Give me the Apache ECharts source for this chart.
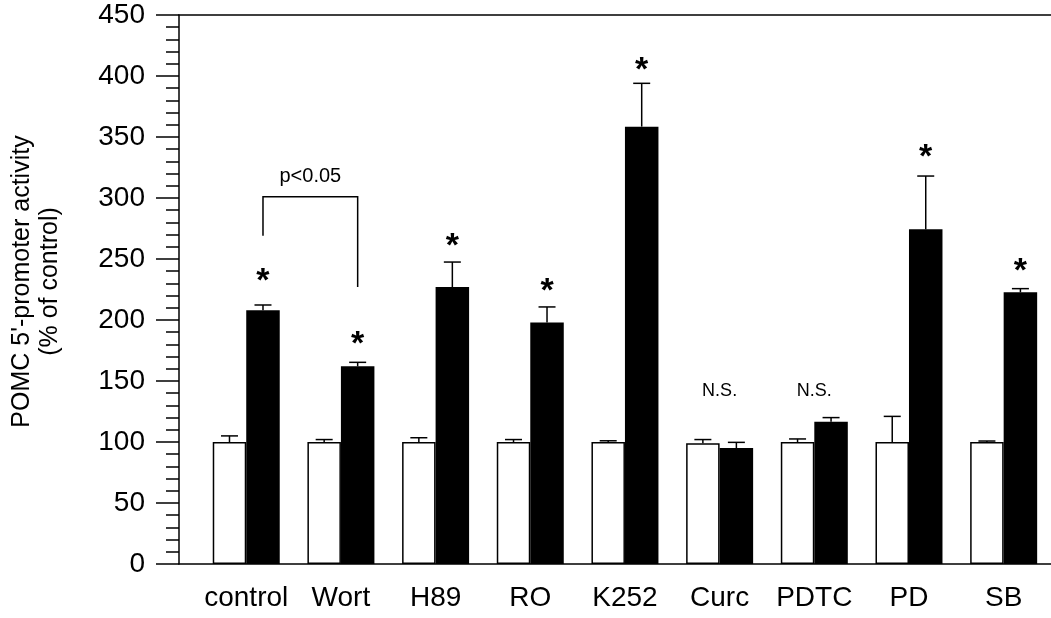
<!DOCTYPE html>
<html><head><meta charset="utf-8">
<script src="https://cdn.jsdelivr.net/npm/echarts@6/dist/echarts.min.js"></script>
<style>html,body{margin:0;padding:0;background:#fff}#c{width:1051px;height:618px}</style>
</head><body><div id="c"></div>
<script>
// ---- data ----
const categories = ['control','Wort','H89','RO','K252','Curc','PDTC','PD','SB'];
const basalMean = [100,100,100,100,100,99,100,100,100];
const basalErr  = [5,2,3.5,2,1,3,2.5,21,0.8];
const stimMean  = [208,162,227,198,358.5,95,116.6,274.3,222.7];
const stimErr   = [4.3,3.3,20.5,12.7,35.5,4.7,3.4,43.7,3];
const sigText   = ['*','*','*','*','*','N.S.','N.S.','*','*'];
const sigAt     = [238,186,267,230,411,142,142,340,246];
const bracketPair   = [0,1];
const bracketLevels = [269,301,227];
const bracketLabel  = 'p<0.05';
const bracketLabelAt = 318;
const yMin = 0, yMax = 450, yStep = 50;
const yTitle = "POMC 5'-promoter activity\n(% of control)";

// ---- layout / style ----
const FONT = "'Liberation Sans', Arial, Helvetica, sans-serif";
const BAR = 33.5, CAP = 17, LW = 1.5;
const TOP = 15, BOTTOM = 54;

function errRender(side){
  return function(params, api){
    const i = api.value(0), m = api.value(1), e = api.value(2);
    const p0 = api.coord([i, m]), p1 = api.coord([i, m + e]);
    const x = p0[0] + side * BAR / 2;
    return {type:'group', children:[
      {type:'line', shape:{x1:x, y1:p0[1], x2:x, y2:p1[1]}, style:{stroke:'#000', lineWidth:LW}},
      {type:'line', shape:{x1:x-CAP/2, y1:p1[1], x2:x+CAP/2, y2:p1[1]}, style:{stroke:'#000', lineWidth:LW}}
    ]};
  };
}

const chart = echarts.init(document.getElementById('c'), null, {renderer:'canvas'});
chart.setOption({
  animation:false,
  backgroundColor:'#fff',
  grid:[
    {left:179, right:0, top:TOP, bottom:BOTTOM},
    {left:198.9, width:856.8, top:TOP, bottom:BOTTOM}
  ],
  xAxis:[
    {type:'value', gridIndex:0, min:0, max:1, position:'bottom',
     axisLine:{show:true, lineStyle:{color:'#000', width:LW}}, axisTick:{show:false}, axisLabel:{show:false}, splitLine:{show:false}},
    {type:'value', gridIndex:0, min:0, max:1, position:'top',
     axisLine:{show:true, lineStyle:{color:'#000', width:LW}}, axisTick:{show:false}, axisLabel:{show:false}, splitLine:{show:false}},
    {type:'category', gridIndex:1, data:categories, boundaryGap:true,
     axisLine:{show:false}, axisTick:{show:false}, splitLine:{show:false},
     axisLabel:{color:'#000', fontSize:28, fontFamily:FONT, margin:20, interval:0}}
  ],
  yAxis:[
    {type:'value', gridIndex:0, min:yMin, max:yMax, interval:yStep,
     axisLine:{show:true, lineStyle:{color:'#000', width:LW}},
     axisTick:{show:true, length:23, lineStyle:{color:'#000', width:LW}},
     minorTick:{show:true, splitNumber:5, length:13, lineStyle:{color:'#000', width:LW}},
     splitLine:{show:false},
     axisLabel:{color:'#000', fontSize:28, fontFamily:FONT, margin:34, padding:[6,0,0,0]},
     name:yTitle, nameLocation:'middle', nameRotate:90, nameGap:115,
     nameTextStyle:{color:'#000', fontSize:25, fontFamily:FONT, lineHeight:28, padding:[0,0,0,16]}},
    {type:'value', gridIndex:1, min:yMin, max:yMax, interval:yStep, show:false}
  ],
  series:[
    {type:'bar', xAxisIndex:2, yAxisIndex:1, data:basalMean, barWidth:BAR, barGap:'0%',
     itemStyle:{color:'#fff', borderColor:'#000', borderWidth:LW}, z:2},
    {type:'bar', xAxisIndex:2, yAxisIndex:1, data:stimMean, barWidth:BAR, barGap:'0%',
     itemStyle:{color:'#000'}, z:2},
    {type:'custom', xAxisIndex:2, yAxisIndex:1, z:3, renderItem:errRender(-1),
     data:categories.map((c,i)=>[i, basalMean[i], basalErr[i]]), encode:{x:0, y:1}},
    {type:'custom', xAxisIndex:2, yAxisIndex:1, z:3, renderItem:errRender(1),
     data:categories.map((c,i)=>[i, stimMean[i], stimErr[i]]), encode:{x:0, y:1}},
    {type:'custom', xAxisIndex:2, yAxisIndex:1, z:4,
     data:categories.map((c,i)=>[i, sigAt[i]]), encode:{x:0, y:1},
     renderItem:function(params, api){
       const i = api.value(0);
       const p = api.coord([i, api.value(1)]);
       const star = sigText[i] === '*';
       return {type:'text', x: star ? p[0] + BAR/2 : p[0], y: star ? p[1] + 8 : p[1],
         style:{text:sigText[i], fill:'#000', align:'center', verticalAlign:'middle',
           font: star ? ('bold 34px ' + FONT) : ('18px ' + FONT)}};
     }},
    {type:'custom', xAxisIndex:2, yAxisIndex:1, z:4,
     data:[[bracketPair[0], bracketLevels[1]]], encode:{x:0, y:1},
     renderItem:function(params, api){
       const a = api.coord([bracketPair[0], bracketLevels[0]]);
       const t = api.coord([bracketPair[0], bracketLevels[1]]);
       const b = api.coord([bracketPair[1], bracketLevels[2]]);
       const xa = a[0] + BAR/2, xb = b[0] + BAR/2;
       const ly = api.coord([bracketPair[0], bracketLabelAt])[1];
       return {type:'group', children:[
         {type:'polyline', shape:{points:[[xa,a[1]],[xa,t[1]],[xb,t[1]],[xb,b[1]]]},
          style:{stroke:'#000', lineWidth:LW, fill:null}},
         {type:'text', x:(xa+xb)/2, y:ly,
          style:{text:bracketLabel, fill:'#000', align:'center', verticalAlign:'middle', font:'20px ' + FONT}}
       ]};
     }}
  ]
});
</script>
</body></html>
